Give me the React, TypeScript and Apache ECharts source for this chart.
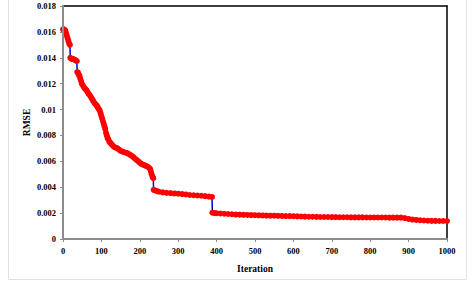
import React, { useEffect, useRef } from "react";
import * as echarts from "echarts";

// Iteration numbers and the RMSE recorded at each one
const iterations = [
  0, 2, 4, 6, 8, 10, 12, 14, 16, 18,
  19, 21, 24, 27, 30, 33, 36,
  37, 39, 41, 43, 45, 47, 49, 52, 55, 58, 61, 64, 67, 70, 73, 76, 79, 82, 85, 88,
  90, 92, 94, 96, 98, 100, 102, 104, 106, 108, 110, 112, 114, 116, 118, 121, 124,
  127, 130, 134, 138, 142, 146, 150, 155, 160, 165, 170, 175, 180, 184, 188, 192,
  196, 200, 204, 208, 212, 216, 220, 224, 227, 229, 231, 233, 235,
  236, 240, 245, 250, 260, 270, 280, 290, 300, 310, 320, 330, 340, 350, 360, 370,
  380, 388,
  389, 395, 400, 410, 420, 430, 440, 450, 460, 470, 480, 490, 500, 510, 520, 530,
  540, 550, 560, 570, 580, 590, 600, 610, 620, 630, 640, 650, 660, 670, 680, 690,
  700, 710, 720, 730, 740, 750, 760, 770, 780, 790, 800, 810, 820, 830, 840, 850,
  860, 870, 880, 890, 900, 910, 920, 930, 940, 950, 960, 970, 980, 990, 1000,
];

const rmse = [
  0.0162, 0.0162, 0.01615, 0.0161, 0.0159, 0.0157, 0.0155, 0.0153, 0.0151, 0.015,
  0.014, 0.01395, 0.0139, 0.0139, 0.01385, 0.0138, 0.01375,
  0.0129, 0.01285, 0.0127, 0.0126, 0.0124, 0.0122, 0.012, 0.01185, 0.0117, 0.0116,
  0.0115, 0.01135, 0.0112, 0.0111, 0.01095, 0.0108, 0.01065, 0.0105, 0.0104, 0.0103,
  0.0102, 0.0101, 0.01, 0.0099, 0.0097, 0.0095, 0.0093, 0.0091, 0.0089, 0.0087,
  0.0085, 0.0082, 0.008, 0.0078, 0.0077, 0.0075, 0.0074,
  0.0073, 0.0072, 0.0071, 0.00705, 0.007, 0.0069, 0.0068, 0.00675, 0.0067, 0.00665,
  0.0066, 0.0065, 0.0064, 0.0063, 0.0062, 0.0061,
  0.006, 0.0059, 0.0058, 0.00575, 0.0057, 0.00565, 0.0056, 0.0055, 0.0054, 0.0052,
  0.005, 0.0048, 0.0047,
  0.0038, 0.00375, 0.0037, 0.00365, 0.0036, 0.00357, 0.00355, 0.00352, 0.0035,
  0.00347, 0.00344, 0.0034, 0.00338, 0.00336, 0.00334, 0.00331,
  0.00328, 0.00325,
  0.00203, 0.002, 0.00199, 0.00197, 0.00195, 0.00193, 0.00191, 0.00189, 0.00188,
  0.00187, 0.00186, 0.00185, 0.00184, 0.00183, 0.00182, 0.00181,
  0.0018, 0.0018, 0.00179, 0.00178, 0.00177, 0.00177, 0.00176, 0.00175, 0.00174,
  0.00173, 0.00172, 0.00172, 0.00171, 0.0017, 0.0017, 0.0017,
  0.00169, 0.00169, 0.00168, 0.00168, 0.00168, 0.00167, 0.00167, 0.00167, 0.00167,
  0.00166, 0.00166, 0.00166, 0.00166, 0.00166, 0.00166, 0.00165,
  0.00165, 0.00165, 0.00165, 0.00162, 0.00155, 0.0015, 0.00147, 0.00145, 0.00143,
  0.00141, 0.0014, 0.0014, 0.00139, 0.00139, 0.00139,
];

const FONT = '"Liberation Serif", "Times New Roman", serif';

export default function App() {
  const ref = useRef<HTMLDivElement>(null);

  useEffect(() => {
    if (!ref.current) return;
    const chart = echarts.init(ref.current, null, { renderer: "svg" });
    const points = iterations.map((it, i) => [it, rmse[i]]);
    const labelStyle = {
      fontFamily: FONT,
      fontWeight: "bold" as const,
      fontSize: 8.5,
      color: "#000000",
    };
    chart.setOption({
      animation: false,
      backgroundColor: "#fff",
      grid: { left: 63, right: 25, top: 6, bottom: 44 },
      graphic: [
        {
          type: "rect",
          shape: { x: 8.5, y: -2, width: 458, height: 281.5 },
          style: { fill: "none", stroke: "#e2e2e2", lineWidth: 1 },
          silent: true,
        },
      ],
      xAxis: [
        {
          type: "value",
          min: 0,
          max: 1000,
          interval: 100,
          name: "Iteration",
          nameLocation: "middle",
          nameGap: 25,
          nameMoveOverlap: false,
          nameTextStyle: { ...labelStyle, fontSize: 9.5 },
          axisLine: { show: true, lineStyle: { color: "#8c8c8c", width: 2 } },
          axisTick: { show: true, length: 3, lineStyle: { color: "#8c8c8c" } },
          axisLabel: {
            ...labelStyle,
            margin: 7,
            formatter: (v: number) => String(v),
          },
          splitLine: { show: false },
          z: 3,
        },
        {
          type: "value",
          position: "top",
          min: 0,
          max: 1000,
          axisLine: { show: true, onZero: false, lineStyle: { color: "#000", width: 1.5 } },
          axisTick: { show: false },
          axisLabel: { show: false },
          splitLine: { show: false },
        },
      ],
      yAxis: [
        {
          type: "value",
          min: 0,
          max: 0.018,
          interval: 0.002,
          name: "RMSE",
          nameLocation: "middle",
          nameGap: 31,
          nameMoveOverlap: false,
          nameTextStyle: { ...labelStyle, fontSize: 9.5 },
          axisLine: { show: true, lineStyle: { color: "#8c8c8c", width: 2 } },
          axisTick: { show: true, length: 3, lineStyle: { color: "#8c8c8c" } },
          axisLabel: {
            ...labelStyle,
            margin: 7,
            formatter: (v: number) => String(parseFloat(v.toFixed(3))),
          },
          splitLine: { show: false },
          z: 3,
        },
        {
          type: "value",
          position: "right",
          min: 0,
          max: 0.018,
          axisLine: { show: true, onZero: false, lineStyle: { color: "#000", width: 1.5 } },
          axisTick: { show: false },
          axisLabel: { show: false },
          splitLine: { show: false },
        },
      ],
      series: [
        {
          type: "line",
          data: points,
          symbol: "circle",
          symbolSize: 6,
          showAllSymbol: true,
          itemStyle: { color: "#ff0000", borderWidth: 0 },
          lineStyle: { color: "#0000c8", width: 1.5 },
          z: 2,
        },
      ],
    });
    return () => chart.dispose();
  }, []);

  return (
    <div
      ref={ref}
      style={{ position: "absolute", left: 0, top: 0, width: 472, height: 283 }}
    />
  );
}
